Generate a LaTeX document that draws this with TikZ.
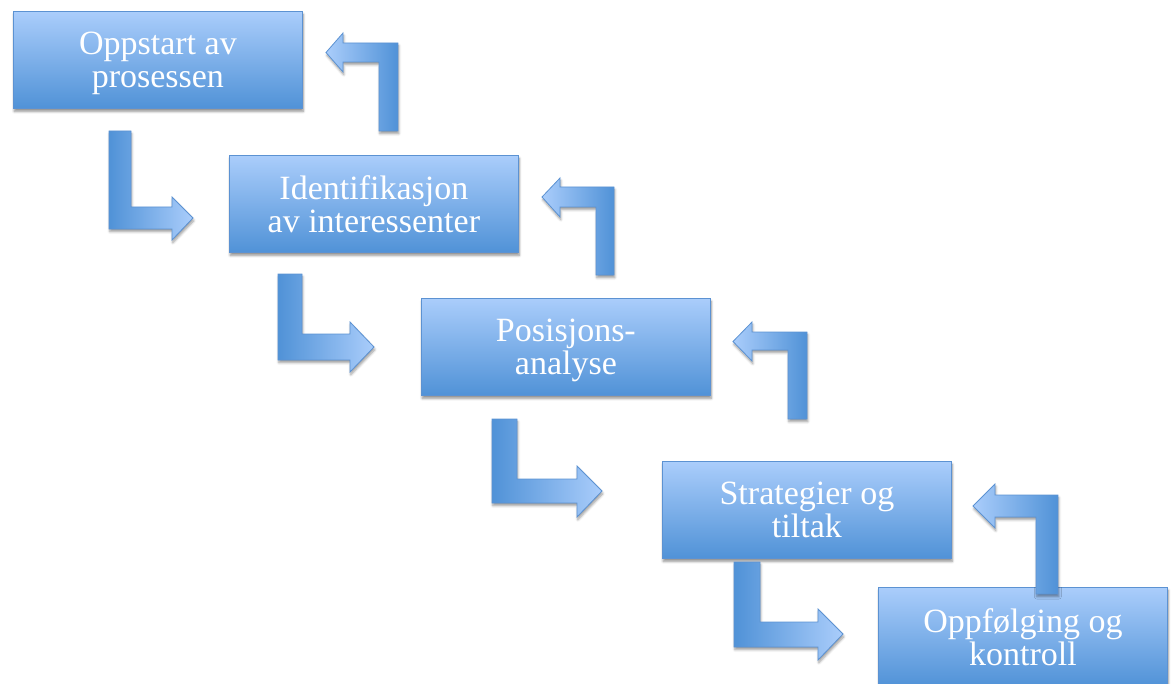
\documentclass[tikz,border=0pt]{standalone}
\usepackage{fontspec}
\setmainfont{Liberation Serif}
\usetikzlibrary{shadows,shadows.blur}
\definecolor{lys}{RGB}{170,205,251}
\definecolor{mork}{RGB}{80,146,215}
\definecolor{kant}{RGB}{92,146,210}
\tikzset{
  steg/.style    = {rectangle, draw=kant, semithick, top color=lys, bottom color=mork, minimum width=216.75pt, minimum height=72.75pt, anchor=north west, text=white, text depth=0pt, align=center, font=\fontsize{25.5}{25}\selectfont, blur shadow={shadow xshift=0.6pt, shadow yshift=-2.2pt, shadow blur steps=6, shadow opacity=45}},
  fram/.style    = {draw=kant, semithick, left color=mork, right color=lys, blur shadow={shadow xshift=0.6pt, shadow yshift=-2pt, shadow blur steps=5, shadow opacity=40}},
  tilbake/.style = {draw=kant, semithick, left color=lys, right color=mork, blur shadow={shadow xshift=0.6pt, shadow yshift=-2pt, shadow blur steps=5, shadow opacity=40}}
}

\begin{document}
\begin{tikzpicture}[x=0.75pt, y=-0.75pt]

  \useasboundingbox (0,0) rectangle (1176,684);
  \clip (0,0) rectangle (1176,684);

  % ---- bokser ----
  \node[steg] (opp) at (13,11)  {Oppstart av\\prosessen};
  \node[steg] (ide) at (229,155) {Identifikasjon\\av interessenter};
  \node[steg] (pos) at (421,298) {Posisjons-\\analyse};
  \node[steg] (str) at (662,461) {Strategier og\\tiltak};
  \node[steg, minimum height=74.5pt] (okt) at (878,587) {Oppfølging og\\kontroll};

  % ---- piler framover (ned og til hoyre) ----
  \draw[fram] (109,131)--(131,131)--(131,207)--(172,207)--(172,197)--(193,218)--(172,240)--(172,229)--(109,229)--cycle;
  \draw[fram] (278,274)--(302,274)--(302,334)--(350,334)--(350,322)--(374,347)--(350,372)--(350,360)--(278,360)--cycle;
  \draw[fram] (492,419)--(517,419)--(517,479)--(577,479)--(577,466)--(602,491)--(577,517)--(577,503)--(492,503)--cycle;
  \draw[fram] (734,562)--(760,562)--(760,622)--(818,622)--(818,609)--(843,634)--(818,660)--(818,647)--(734,647)--cycle;

  % ---- piler tilbake (opp og til venstre) ----
  \draw[tilbake] (398,131)--(398,43)--(343,43)--(343,33)--(326,52.5)--(343,72)--(343,62)--(379,62)--(379,131)--cycle;
  \draw[tilbake] (614,275)--(614,187)--(560,187)--(560,178)--(542,197)--(560,217)--(560,207)--(596,207)--(596,275)--cycle;
  \draw[tilbake] (807,419)--(807,332)--(752,332)--(752,322)--(733,341.5)--(752,361)--(752,350)--(788,350)--(788,419)--cycle;
  \draw[tilbake] (1058,594)--(1058,495)--(995,495)--(995,484)--(973,506)--(995,528)--(995,517)--(1036,517)--(1036,594)--cycle;

\end{tikzpicture}
\end{document}
